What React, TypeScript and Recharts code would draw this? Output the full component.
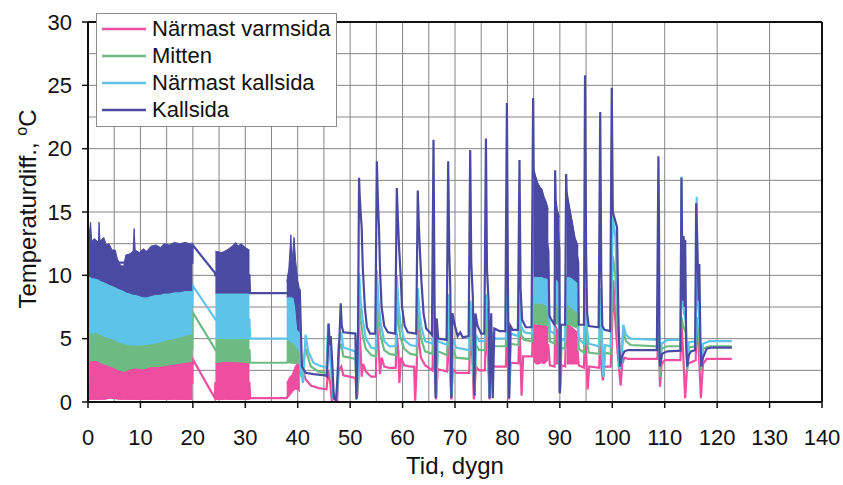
import React from "react";
import {
  ComposedChart,
  Line,
  Area,
  XAxis,
  YAxis,
  CartesianGrid,
  ReferenceLine,
  Legend,
  Label,
} from "recharts";

// färger läst ur diagrammet
const ROSA = "#EE4E9F";
const GRON = "#6DBB83";
const LJUSBLA = "#5EC3E8";
const MORKBLA = "#4B4AA2";

const xTicks = [0, 10, 20, 30, 40, 50, 60, 70, 80, 90, 100, 110, 120, 130, 140];
const yTicks = [0, 5, 10, 15, 20, 25, 30];
const xGrid = [0, 5, 10, 15, 20, 25, 30, 35, 40, 45, 50, 55, 60, 65, 70, 75, 80, 85, 90, 95, 100, 105, 110, 115, 120, 125, 130, 135, 140];
const yGrid = [0, 2.5, 5, 7.5, 10, 12.5, 15, 17.5, 20, 22.5, 25, 27.5, 30];

// [dygn, temperaturdiff] – linjerna
const varmLinje = [
  [0, 0.1], [0.1, 1.5], [19.9, 1.5], [19.95, 3.4], [24.2, 0.3], [24.3, 1.5], [30.8, 1.5], [30.9, 0.3], [37.9, 0.3],
  [40.4, 2.5], [40.7, 3.2], [41.0, 2.6], [41.5, 1.8], [42.5, 1.3], [44.0, 1.1], [45.5, 1.0], [45.8, 2.5], [46.2, 1.5],
  [46.5, 0.1], [47.0, 0.5], [47.5, 0.1], [47.8, 2.5], [48.3, 2.8], [48.7, 2.1], [51.0, 1.9], [51.3, 0.3], [51.6, 1.9],
  [51.7, 6.1], [52.0, 4.0], [52.2, 2.0], [52.5, 3.0], [53.0, 2.4], [54.0, 2.0], [54.9, 2.0], [55.1, 6.5], [55.4, 4.5],
  [55.7, 2.2], [56.0, 3.5], [56.5, 2.8], [57.5, 2.7], [58.7, 2.7], [58.9, 5.4], [59.2, 4.0], [59.4, 1.5], [59.7, 3.5],
  [60.3, 2.9], [61.5, 2.8], [62.2, 2.8], [62.4, 0.1], [62.7, 2.8], [62.9, 6.1], [63.2, 4.5], [63.5, 3.5], [64.3, 2.9],
  [65.7, 2.5], [65.9, 5.5], [66.2, 2.0], [66.4, 0.2], [66.7, 2.6], [68.5, 2.4], [68.7, 5.5], [69.0, 3.0], [69.3, 0.2],
  [69.6, 2.6], [70.2, 2.3], [72.7, 2.3], [72.9, 5.0], [73.3, 3.5], [73.6, 0.2], [74.0, 2.8], [74.6, 2.5], [75.7, 2.5],
  [75.9, 5.5], [76.3, 3.5], [76.6, 0.2], [77.0, 3.0], [77.6, 2.8], [79.7, 2.8], [79.9, 6.0], [80.1, 3.0], [80.3, 0.2],
  [80.6, 3.1], [82.1, 3.05], [82.3, 6.0], [82.5, 3.5], [82.7, 0.5], [83.0, 3.6], [84.7, 3.6], [84.9, 6.3], [85.0, 4.5],
  [87.8, 4.5], [88.1, 2.9], [89.0, 2.8], [89.1, 6.0], [89.2, 4.5], [89.9, 4.0], [90.0, 0.7], [90.3, 2.9], [91.0, 2.8],
  [91.2, 6.2], [91.3, 4.5], [93.4, 4.0], [93.6, 2.9], [94.6, 2.7], [94.8, 6.0], [95.1, 3.0], [95.3, 1.0], [95.6, 2.8],
  [97.5, 2.7], [97.7, 5.5], [98.0, 2.5], [98.2, 1.7], [98.5, 2.8], [99.7, 2.8], [99.9, 5.0], [100.2, 9.6], [100.5, 7.0],
  [100.9, 4.5], [101.2, 3.0], [101.6, 1.3], [101.9, 3.0], [102.3, 3.5], [103.0, 3.4], [108.6, 3.4], [108.8, 5.5],
  [109.0, 3.0], [109.1, 1.2], [109.4, 3.0], [110.0, 3.3], [113.0, 3.3], [113.2, 6.2], [113.5, 4.0], [113.9, 0.3],
  [114.3, 3.0], [115.9, 3.3], [116.1, 6.5], [116.5, 4.0], [116.9, 0.3], [117.3, 3.0], [118.0, 3.4], [122.8, 3.4],
];

const mittenLinje = [
  [0, 0.3], [0.1, 4.2], [19.9, 4.2], [19.95, 7.1], [24.2, 4.2], [24.3, 4.1], [30.8, 4.1], [30.9, 3.1], [37.9, 3.1],
  [40.3, 4.0], [40.6, 2.0], [41.5, 4.2], [42.5, 2.8], [44.0, 2.4], [45.5, 2.3], [45.8, 5.0], [46.2, 3.5], [46.8, 0.3],
  [47.5, 0.3], [47.8, 4.0], [48.3, 4.6], [48.7, 3.6], [51.0, 3.4], [51.3, 0.5], [51.6, 3.4], [51.7, 8.3], [52.0, 6.5],
  [52.4, 5.2], [53.0, 4.2], [54.0, 3.7], [54.9, 3.6], [55.1, 8.6], [55.4, 6.5], [55.8, 5.2], [56.5, 4.1], [57.5, 3.8],
  [58.7, 3.7], [58.9, 8.1], [59.2, 6.3], [59.6, 5.1], [60.3, 4.2], [61.5, 3.8], [62.7, 3.7], [62.9, 7.3], [63.2, 6.0],
  [63.6, 4.9], [64.3, 4.0], [65.7, 3.8], [65.9, 7.0], [66.2, 2.5], [66.4, 0.4], [66.7, 4.0], [68.5, 3.7], [68.7, 7.0],
  [69.0, 4.5], [69.3, 0.4], [69.6, 4.2], [70.2, 3.5], [72.7, 3.4], [72.9, 6.8], [73.3, 5.0], [73.7, 0.5], [74.0, 4.5],
  [74.6, 4.1], [75.7, 4.1], [75.9, 7.0], [76.3, 5.0], [76.6, 0.4], [77.0, 4.8], [77.6, 4.4], [79.7, 4.4], [79.9, 7.5],
  [80.1, 4.8], [80.3, 0.4], [80.6, 4.6], [82.1, 4.5], [82.3, 7.5], [82.6, 5.3], [83.2, 4.9], [84.7, 4.8], [84.9, 7.8],
  [85.0, 7.0], [87.8, 7.0], [88.1, 4.8], [89.0, 4.6], [89.1, 7.8], [89.2, 7.0], [89.9, 6.8], [90.0, 0.7], [90.3, 4.3],
  [91.0, 4.2], [91.2, 7.8], [91.3, 7.0], [93.4, 6.5], [93.6, 4.2], [94.6, 3.9], [94.8, 7.5], [95.1, 5.0], [95.5, 3.9],
  [97.5, 3.8], [97.7, 7.5], [98.0, 4.8], [98.3, 2.0], [98.6, 3.9], [99.7, 3.8], [99.9, 8.0], [100.1, 11.5], [100.6, 10.0],
  [101.0, 6.0], [101.4, 2.6], [101.7, 3.0], [102.1, 5.6], [102.6, 4.8], [103.5, 4.5], [108.6, 4.4], [108.8, 7.0],
  [109.1, 2.0], [109.4, 4.2], [110.5, 4.4], [113.0, 4.4], [113.2, 6.7], [113.5, 6.0], [114.0, 5.5], [114.3, 2.5],
  [114.6, 4.3], [115.9, 4.4], [116.1, 6.7], [116.5, 5.5], [116.9, 2.5], [117.3, 4.2], [118.5, 4.4], [122.8, 4.4],
];

const nkallLinje = [
  [0, 0.3], [0.1, 7.5], [19.9, 7.5], [19.95, 9.2], [24.2, 6.6], [24.3, 6.5], [30.8, 6.5], [30.9, 5.0], [37.9, 5.0],
  [40.3, 5.5], [40.6, 2.5], [41.0, 1.5], [41.5, 5.3], [42.0, 4.0], [43.0, 3.1], [44.0, 2.9], [45.5, 2.7], [45.8, 6.2],
  [46.2, 4.0], [46.8, 0.3], [47.5, 0.3], [47.8, 4.5], [48.3, 5.5], [48.7, 4.3], [51.0, 4.0], [51.3, 0.5], [51.6, 4.0],
  [51.7, 10.2], [52.0, 8.0], [52.4, 6.5], [53.0, 5.0], [54.0, 4.3], [54.9, 4.2], [55.1, 10.4], [55.4, 8.0], [55.8, 6.3],
  [56.5, 4.8], [57.5, 4.4], [58.7, 4.4], [58.9, 10.0], [59.2, 7.8], [59.6, 6.2], [60.3, 4.9], [61.5, 4.5], [62.7, 4.4],
  [62.9, 9.0], [63.2, 7.2], [63.6, 5.9], [64.3, 4.8], [65.7, 4.6], [65.9, 8.5], [66.2, 3.0], [66.4, 0.4], [66.7, 4.8],
  [68.5, 4.5], [68.7, 8.5], [69.0, 5.5], [69.3, 0.4], [69.6, 5.0], [70.2, 4.3], [72.7, 4.1], [72.9, 8.0], [73.3, 6.0],
  [73.7, 0.5], [74.0, 5.3], [74.6, 4.8], [75.7, 4.8], [75.9, 8.5], [76.3, 6.0], [76.6, 0.4], [77.0, 5.5], [77.6, 5.0],
  [79.7, 5.0], [79.9, 9.0], [80.1, 5.5], [80.3, 0.4], [80.6, 5.4], [82.1, 5.2], [82.3, 9.0], [82.6, 6.0], [83.2, 5.5],
  [84.7, 5.4], [84.9, 10.4], [85.0, 9.0], [87.8, 9.0], [88.1, 5.6], [89.0, 5.4], [89.1, 10.0], [89.2, 9.0], [89.9, 8.5],
  [90.0, 0.7], [90.3, 5.0], [91.0, 4.8], [91.2, 10.0], [91.3, 9.0], [93.4, 8.5], [93.6, 5.0], [94.6, 4.6], [94.8, 9.0],
  [95.1, 6.0], [95.5, 4.6], [97.5, 4.4], [97.7, 9.0], [98.0, 5.5], [98.3, 2.0], [98.6, 4.5], [99.7, 4.4], [99.9, 10.0],
  [100.1, 14.6], [100.6, 13.0], [101.0, 8.0], [101.4, 2.6], [101.7, 3.0], [102.1, 6.1], [102.6, 5.3], [103.5, 5.0],
  [108.6, 4.9], [108.8, 8.0], [109.1, 3.0], [109.4, 4.6], [110.5, 4.9], [113.0, 4.9], [113.2, 17.8], [113.4, 8.0],
  [113.7, 7.0], [114.0, 6.5], [114.3, 3.0], [114.6, 4.7], [115.9, 4.8], [116.1, 16.2], [116.3, 8.0], [116.6, 6.5],
  [116.9, 3.0], [117.3, 4.6], [118.5, 4.8], [122.8, 4.8],
];

const kallLinje = [
  [0.05, 9.9], [0.1, 11.0], [19.9, 11.0], [19.95, 12.4], [24.2, 10.2], [24.3, 10.0], [30.8, 10.0], [30.9, 8.6], [37.9, 8.6],
  [40.4, 8.8], [40.8, 2.8], [41.5, 2.3], [43.0, 2.2], [45.3, 2.1], [45.6, 2.0], [45.9, 6.2], [46.1, 4.5], [46.3, 5.2],
  [46.6, 3.0], [46.9, 0.3], [47.3, 0.1], [47.6, 2.0], [48.0, 5.5], [48.2, 7.8], [48.4, 6.0], [48.7, 5.5], [51.0, 5.4],
  [51.2, 0.2], [51.5, 5.4], [51.7, 17.7], [51.8, 16.5], [52.0, 15.0], [52.2, 13.8], [52.4, 10.7], [52.8, 7.5], [53.2, 5.9],
  [53.8, 5.4], [54.8, 5.4], [55.1, 19.0], [55.3, 15.7], [55.5, 13.8], [55.7, 10.4], [56.0, 7.5], [56.5, 6.0], [57.2, 5.5],
  [58.6, 5.4], [58.9, 16.9], [59.1, 14.5], [59.3, 12.5], [59.6, 10.2], [59.9, 7.5], [60.4, 6.0], [61.0, 5.5], [62.6, 5.4],
  [62.9, 16.7], [63.1, 14.0], [63.3, 12.0], [63.6, 9.5], [64.0, 7.0], [64.5, 5.8], [65.6, 5.3], [65.9, 20.7], [66.1, 8.0],
  [66.3, 0.3], [66.5, 6.6], [66.8, 5.0], [68.4, 4.9], [68.7, 19.0], [68.9, 12.0], [69.1, 9.1], [69.3, 0.3], [69.5, 7.0],
  [70.0, 6.0], [70.5, 5.2], [71.0, 5.5], [71.5, 5.1], [72.6, 5.2], [72.9, 19.9], [73.1, 11.0], [73.4, 8.3], [73.7, 0.5],
  [73.9, 7.0], [74.3, 6.0], [75.0, 5.4], [75.6, 5.4], [75.9, 20.8], [76.1, 10.5], [76.4, 8.0], [76.6, 0.3], [76.9, 7.0],
  [77.2, 0.3], [77.5, 5.8], [78.5, 5.6], [79.6, 5.6], [79.9, 23.6], [80.1, 9.0], [80.3, 0.3], [80.6, 6.0], [81.0, 5.7],
  [82.0, 5.7], [82.3, 19.1], [82.5, 9.0], [82.8, 6.5], [83.5, 5.9], [84.6, 5.9], [84.9, 24.0], [85.0, 18.3], [87.8, 12.0],
  [88.0, 6.8], [88.8, 6.2], [89.0, 6.1], [89.1, 18.3], [89.2, 16.0], [89.9, 12.0], [90.0, 0.7], [90.2, 6.1], [91.0, 6.1],
  [91.2, 18.0], [91.3, 16.5], [93.5, 11.0], [93.6, 6.1], [94.6, 6.1], [94.8, 25.8], [95.0, 12.0], [95.2, 7.0], [95.5, 6.0],
  [97.4, 5.9], [97.7, 22.9], [97.9, 10.0], [98.1, 6.0], [98.5, 5.7], [99.6, 5.6], [99.9, 24.8], [100.1, 15.0], [100.5, 14.4],
  [100.9, 13.8], [101.2, 6.0], [101.5, 2.8], [101.8, 3.5], [102.3, 4.0], [103.0, 4.1], [108.5, 4.1], [108.8, 19.4],
  [108.9, 15.0], [109.0, 4.0], [109.1, 2.8], [109.5, 3.8], [110.5, 4.0], [113.0, 4.05], [113.2, 17.7], [113.3, 13.2],
  [113.5, 8.0], [113.6, 13.1], [113.8, 7.5], [113.9, 12.8], [114.1, 4.5], [114.3, 2.8], [114.6, 3.7], [115.0, 4.0],
  [115.8, 4.1], [116.0, 15.7], [116.3, 11.0], [116.5, 8.0], [116.6, 10.9], [116.8, 5.0], [117.0, 2.8], [117.3, 3.5],
  [118.0, 4.2], [119.0, 4.3], [122.8, 4.3],
];

// [dygn, min, max] – täta svängningar som fyller ett band
const varmBand = [
  [[0.1, 0.2, 3.2], [1.5, 0.2, 3.3], [3.0, 0.2, 3.0], [4.5, 0.3, 2.8], [6.0, 0.2, 2.5], [7.0, 0.2, 2.4], [8.0, 0.2, 2.6],
   [9.0, 0.2, 2.7], [10.5, 0.2, 2.6], [12.0, 0.2, 2.8], [13.5, 0.2, 2.8], [15.0, 0.2, 2.9], [16.5, 0.2, 3.0], [18.0, 0.2, 3.1], [19.9, 0.2, 3.2]],
  [[24.3, 0.2, 3.1], [26.0, 0.2, 3.2], [28.0, 0.2, 3.2], [30.8, 0.2, 3.1]],
  [[37.9, 0.3, 1.5], [38.5, 0.5, 2.0], [39.0, 0.8, 2.2], [39.5, 1.0, 2.8], [40.0, 1.0, 3.1], [40.4, 0.8, 3.0]],
  [[85.0, 3.2, 6.3], [85.5, 3.0, 6.0], [86.0, 3.0, 6.4], [86.5, 3.1, 6.0], [87.0, 3.0, 6.2], [87.5, 3.2, 6.0], [87.8, 3.3, 5.8]],
  [[89.2, 3.0, 6.0], [89.9, 3.0, 5.5]],
  [[91.3, 3.0, 6.2], [92.3, 3.0, 5.9], [93.4, 3.0, 5.5]],
];

const mittenBand = [
  [[0.1, 3.2, 5.4], [1.5, 3.3, 5.5], [3.0, 3.0, 5.2], [4.5, 2.8, 5.0], [6.0, 2.5, 4.7], [7.0, 2.4, 4.6], [8.0, 2.6, 4.5],
   [9.0, 2.7, 4.5], [10.5, 2.6, 4.5], [12.0, 2.8, 4.6], [13.5, 2.8, 4.7], [15.0, 2.9, 4.9], [16.5, 3.0, 5.0], [18.0, 3.1, 5.2], [19.9, 3.2, 5.4]],
  [[24.3, 3.1, 5.0], [26.0, 3.2, 5.0], [28.0, 3.2, 5.1], [30.8, 3.1, 5.0]],
  [[37.9, 3.1, 5.0], [40.3, 3.0, 5.0]],
  [[85.0, 6.2, 7.8], [86.5, 6.1, 7.8], [87.8, 6.0, 7.6]],
  [[89.2, 6.2, 7.8], [89.9, 6.0, 7.5]],
  [[91.3, 6.2, 7.8], [92.3, 6.0, 7.4], [93.4, 5.8, 7.0]],
];

const nkallBand = [
  [[0.1, 5.4, 9.9], [1.5, 5.5, 9.8], [3.0, 5.2, 9.5], [4.5, 5.0, 9.2], [6.0, 4.7, 9.0], [7.0, 4.6, 8.8], [8.0, 4.5, 8.6],
   [9.0, 4.5, 8.5], [10.5, 4.5, 8.3], [12.0, 4.6, 8.4], [13.5, 4.7, 8.5], [15.0, 4.9, 8.6], [16.5, 5.0, 8.7], [18.0, 5.2, 8.8], [19.9, 5.4, 8.8]],
  [[24.3, 5.0, 8.6], [30.8, 5.0, 8.6]],
  [[37.9, 5.0, 8.3], [39.5, 4.5, 8.3], [40.3, 4.0, 8.3]],
  [[85.0, 7.8, 10.4], [86.5, 7.8, 10.2], [87.8, 7.6, 9.9]],
  [[89.2, 7.8, 10.0], [89.9, 7.5, 9.5]],
  [[91.3, 7.8, 10.0], [92.3, 7.4, 9.8], [93.4, 7.0, 9.5]],
];

const kallBand = [
  [[0.1, 9.9, 12.8], [0.5, 9.9, 14.2], [0.7, 9.8, 12.7], [1.2, 9.8, 12.9], [2.0, 9.7, 12.6], [2.1, 9.7, 14.2], [2.3, 9.6, 12.7],
   [3.0, 9.5, 13.0], [3.5, 9.4, 12.4], [4.0, 9.3, 12.5], [4.6, 9.2, 12.0], [5.2, 9.1, 12.0], [5.6, 9.0, 11.3], [6.2, 8.9, 10.8],
   [6.8, 8.8, 10.7], [7.2, 8.7, 11.6], [8.0, 8.6, 11.7], [8.6, 8.5, 11.9], [8.8, 8.5, 13.7], [9.0, 8.5, 12.0], [9.8, 8.4, 11.8],
   [10.5, 8.3, 12.1], [11.2, 8.3, 11.9], [12.0, 8.4, 12.3], [13.0, 8.5, 12.4], [13.8, 8.5, 12.2], [14.5, 8.6, 12.5], [15.5, 8.6, 12.4],
   [16.5, 8.7, 12.6], [17.5, 8.7, 12.5], [18.5, 8.8, 12.6], [19.5, 8.8, 12.5], [19.9, 8.8, 12.4]],
  [[24.3, 8.6, 11.9], [25.5, 8.6, 11.8], [26.5, 8.6, 12.0], [27.5, 8.6, 12.3], [28.2, 8.6, 12.6], [28.6, 8.6, 12.3],
   [29.2, 8.6, 12.5], [30.0, 8.6, 12.2], [30.8, 8.6, 12.0]],
  [[37.9, 8.3, 9.5], [38.3, 8.3, 10.5], [38.7, 8.3, 13.2], [38.9, 8.3, 11.0], [39.3, 8.2, 13.0], [39.6, 7.5, 11.2],
   [40.0, 5.7, 9.6], [40.4, 5.5, 8.8]],
  [[85.0, 9.9, 18.3], [85.4, 9.9, 17.8], [85.8, 9.9, 17.3], [86.2, 9.9, 17.0], [86.6, 9.9, 16.8], [87.0, 9.8, 16.2],
   [87.4, 9.8, 15.8], [87.8, 9.7, 15.2]],
  [[89.2, 9.8, 16.0], [89.5, 9.6, 15.2], [89.9, 9.4, 14.6]],
  [[91.3, 9.9, 16.5], [91.8, 9.9, 15.4], [92.3, 9.8, 14.4], [92.9, 9.6, 13.0], [93.5, 9.4, 12.3]],
];

const serier = [
  { namn: "Närmast varmsida", farg: ROSA, linje: varmLinje, band: varmBand },
  { namn: "Mitten", farg: GRON, linje: mittenLinje, band: mittenBand },
  { namn: "Närmast kallsida", farg: LJUSBLA, linje: nkallLinje, band: nkallBand },
  { namn: "Kallsida", farg: MORKBLA, linje: kallLinje, band: kallBand },
];

const FONT = "'Liberation Sans', Arial, sans-serif";

const toPts = (arr: number[][]) => arr.map(([x, y]) => ({ x, y }));
const toBand = (arr: number[][]) => arr.map(([x, lo, hi]) => ({ x, v: [lo, hi] }));

// egen legend, i samma ordning som serierna
function LegendBox() {
  return (
    <div
      style={{
        border: "1px solid #8c8c8c",
        background: "#fff",
        padding: "1px 4px 3px 5px",
        fontFamily: FONT,
        fontSize: 22,
        lineHeight: "26px",
        color: "#111",
        whiteSpace: "nowrap",
        boxSizing: "border-box",
        width: 241,
      }}
    >
      {serier.map((s) => (
        <div key={s.namn} style={{ display: "flex", alignItems: "center", height: 27 }}>
          <svg width={44} height={6} style={{ marginRight: 6, flexShrink: 0 }}>
            <line x1={0} y1={3} x2={44} y2={3} stroke={s.farg} strokeWidth={2.5} />
          </svg>
          <span>{s.namn}</span>
        </div>
      ))}
    </div>
  );
}

function YTitle(props: any) {
  const vb = props.viewBox || { x: 0, y: 22, height: 380 };
  const cx = 28;
  const cy = vb.y + vb.height / 2 - 3;
  return (
    <text
      x={cx}
      y={cy}
      transform={`rotate(-90, ${cx}, ${cy})`}
      textAnchor="middle"
      dy="0.35em"
      fontSize={24}
      fontFamily={FONT}
      fill="#111"
    >
      Temperaturdiff.,{" "}
      <tspan dy={-9} fontSize={16}>o</tspan>
      <tspan dy={9}>C</tspan>
    </text>
  );
}

export default function App() {
  let z = 10;
  return (
    <div style={{ position: "absolute", left: 0, top: 0, background: "#fff" }}>
      <ComposedChart width={843} height={485} margin={{ top: 22, right: 21, left: 0, bottom: 0 }}>
        <CartesianGrid
          stroke="#858585"
          strokeWidth={1}
          horizontalValues={yGrid}
          verticalValues={xGrid}
        />
        <XAxis
          type="number"
          dataKey="x"
          domain={[0, 140]}
          ticks={xTicks}
          allowDataOverflow
          height={83}
          tickSize={6}
          tickMargin={21}
          tick={{ fontSize: 22, fill: "#111", fontFamily: FONT }}
          axisLine={{ stroke: "#111", strokeWidth: 2 }}
          tickLine={{ stroke: "#111", strokeWidth: 1.5 }}
        >
          <Label
            value="Tid, dygn"
            position="insideBottom"
            offset={11}
            style={{ fontSize: 24, fill: "#111", fontFamily: FONT }}
          />
        </XAxis>
        <YAxis
          type="number"
          domain={[0, 30]}
          ticks={yTicks}
          allowDataOverflow
          width={88}
          tickSize={6}
          tickMargin={10}
          tick={{ fontSize: 22, fill: "#111", fontFamily: FONT }}
          axisLine={{ stroke: "#111", strokeWidth: 2 }}
          tickLine={{ stroke: "#111", strokeWidth: 1.5 }}
        >
          <Label content={<YTitle />} />
        </YAxis>
        <ReferenceLine y={30} stroke="#111" strokeWidth={2} />
        <ReferenceLine x={140} stroke="#111" strokeWidth={2} />

        {serier.map((s) => [
          ...s.band.map((b, i) => (
            <Area
              key={s.namn + "-band-" + i}
              data={toBand(b)}
              dataKey="v"
              type="linear"
              stroke={s.farg}
              strokeWidth={1}
              fill={s.farg}
              fillOpacity={1}
              legendType="none"
              dot={false}
              activeDot={false}
              isAnimationActive={false}
              zIndex={z++}
            />
          )),
          <Line
            key={s.namn}
            name={s.namn}
            data={toPts(s.linje)}
            dataKey="y"
            type="linear"
            stroke={s.farg}
            strokeWidth={2.2}
            dot={false}
            activeDot={false}
            isAnimationActive={false}
            zIndex={z++}
          />,
        ])}

        <Legend
          layout="vertical"
          align="center"
          verticalAlign="middle"
          content={<LegendBox />}
          wrapperStyle={{ left: 96, top: 13, width: 241, height: 113 }}
        />
      </ComposedChart>
    </div>
  );
}
